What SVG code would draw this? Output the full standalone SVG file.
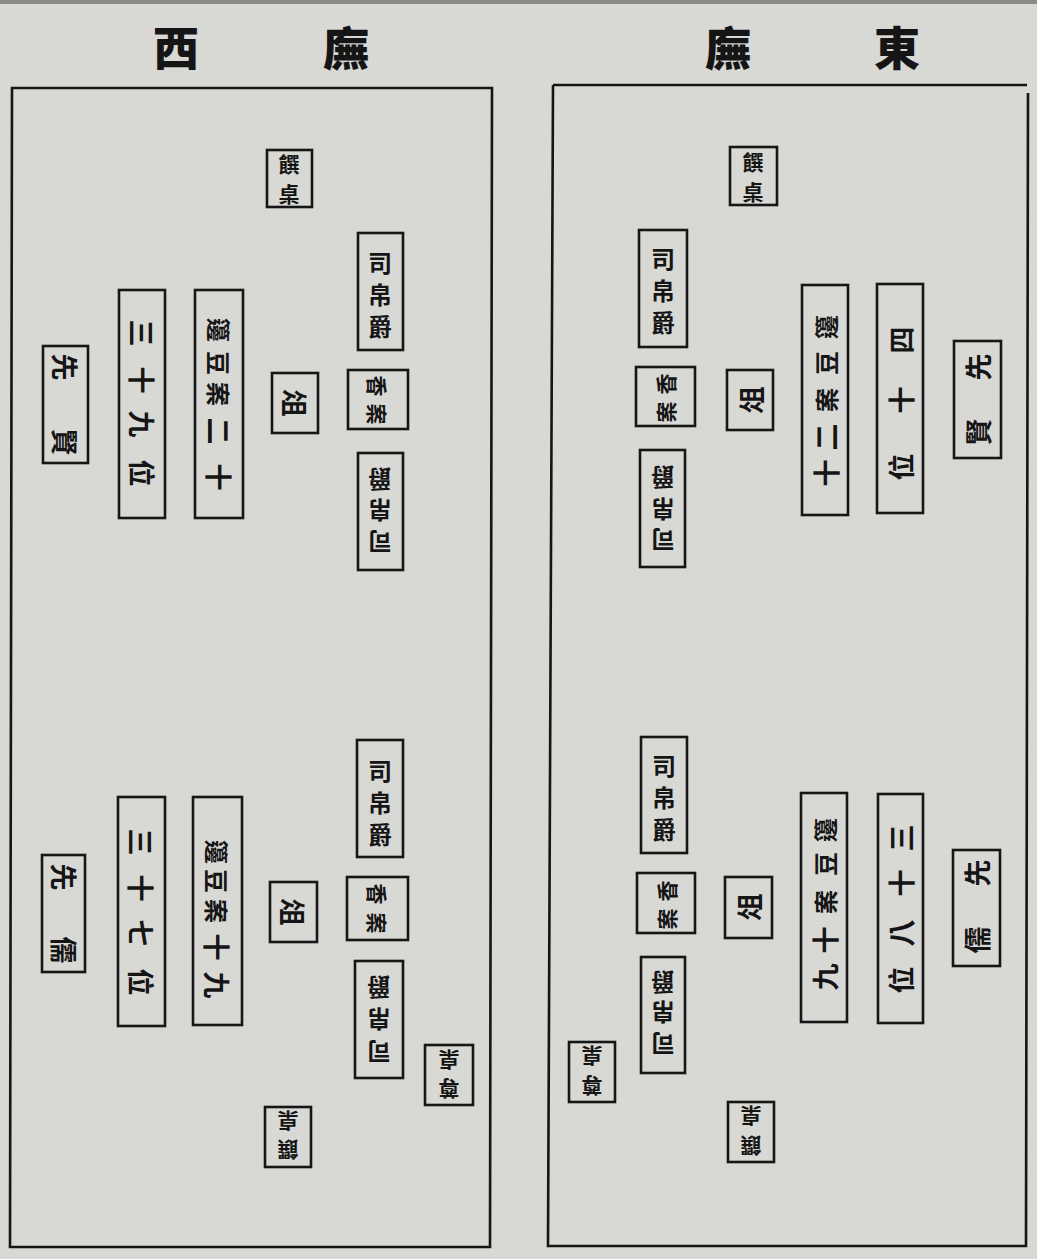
<svg xmlns="http://www.w3.org/2000/svg" width="1037" height="1259" viewBox="0 0 1037 1259">
<style>
.bg{fill:#d8d8d4}
.frame{fill:none;stroke:#151515;stroke-width:2.6}
.box{fill:none;stroke:#161616;stroke-width:2.6}
.ch{font-family:"Noto Sans CJK TC","Noto Sans CJK SC",sans-serif;font-weight:700;font-size:24px;fill:#151515;text-anchor:middle;dominant-baseline:central}
.sm{font-size:21px}
.big{font-size:27px}
.title{font-family:"Noto Sans CJK TC","Noto Sans CJK SC",serif;font-weight:900;font-size:46px;fill:#151515;text-anchor:middle;dominant-baseline:central}
</style>
<rect class="bg" x="0" y="0" width="1037" height="1259"/>
<rect x="0" y="0" width="1037" height="4" fill="#8a8a88"/>

<g id="titles">
<text class="title" x="176" y="45">西</text>
<text class="title" x="346" y="45">廡</text>
<text class="title" x="728" y="45">廡</text>
<text class="title" x="897" y="45">東</text>
</g>

<g id="frames">
<path class="frame" d="M12 88 L492 88 L490 1247 L10 1247 Z"/>
<path class="frame" d="M553 85 L1027 85 M1028 93 L1026 1246 L548 1246 L553 85"/>
</g>

<g id="connectors"></g>

<!-- WEST HALL (left) -->
<g id="w-zhuanzhuo-top">
<rect class="box" x="267" y="150" width="45" height="57"/>
<text class="ch sm" x="289" y="163">饌</text>
<text class="ch sm" x="289" y="193">桌</text>
</g>
<g id="w-sibojue-1">
<rect class="box" x="358" y="233" width="45" height="117"/>
<text class="ch" x="380" y="261">司</text>
<text class="ch" x="380" y="293">帛</text>
<text class="ch" x="380" y="325">爵</text>
</g>
<g id="w-xiangan-1">
<rect class="box" x="348" y="370" width="60" height="59"/>
<text class="ch sm" x="378" y="386" transform="rotate(90 378 386)">香</text>
<text class="ch sm" x="378" y="414" transform="rotate(90 378 414)">案</text>
</g>
<g id="w-zu-1">
<rect class="box" x="272" y="373" width="46" height="60"/>
<text class="ch big" x="295" y="403" transform="rotate(90 295 403)">俎</text>
</g>
<g id="w-sibojue-2">
<rect class="box" x="358" y="453" width="45" height="117"/>
<text class="ch" x="380" y="480" transform="rotate(180 380 480)">爵</text>
<text class="ch" x="380" y="511" transform="rotate(180 380 511)">帛</text>
<text class="ch" x="380" y="543" transform="rotate(180 380 543)">司</text>
</g>
<g id="w-xianxian">
<rect class="box" x="43" y="346" width="45" height="117"/>
<text class="ch big" x="65" y="367" transform="rotate(90 65 367)">先</text>
<text class="ch big" x="65" y="442" transform="rotate(90 65 442)">賢</text>
</g>
<g id="w-39wei">
<rect class="box" x="119" y="290" width="46" height="228"/>
<text class="ch big" x="142" y="333" transform="rotate(90 142 333)">三</text>
<text class="ch big" x="142" y="380" transform="rotate(90 142 380)">十</text>
<text class="ch big" x="142" y="424" transform="rotate(90 142 424)">九</text>
<text class="ch big" x="142" y="473" transform="rotate(90 142 473)">位</text>
</g>
<g id="w-biandou-20">
<rect class="box" x="195" y="290" width="48" height="228"/>
<text class="ch" x="219" y="330" transform="rotate(90 219 330)">籩</text>
<text class="ch" x="219" y="363" transform="rotate(90 219 363)">豆</text>
<text class="ch" x="219" y="394" transform="rotate(90 219 394)">案</text>
<text class="ch big" x="219" y="431" transform="rotate(90 219 431)">二</text>
<text class="ch big" x="219" y="477" transform="rotate(90 219 477)">十</text>
</g>

<g id="w-sibojue-3">
<rect class="box" x="357" y="740" width="46" height="117"/>
<text class="ch" x="380" y="769">司</text>
<text class="ch" x="380" y="801">帛</text>
<text class="ch" x="380" y="833">爵</text>
</g>
<g id="w-xiangan-2">
<rect class="box" x="347" y="877" width="61" height="63"/>
<text class="ch sm" x="378" y="894" transform="rotate(90 378 894)">香</text>
<text class="ch sm" x="378" y="923" transform="rotate(90 378 923)">案</text>
</g>
<g id="w-zu-2">
<rect class="box" x="270" y="882" width="47" height="60"/>
<text class="ch big" x="293" y="912" transform="rotate(90 293 912)">俎</text>
</g>
<g id="w-sibojue-4">
<rect class="box" x="355" y="961" width="48" height="117"/>
<text class="ch" x="379" y="988" transform="rotate(180 379 988)">爵</text>
<text class="ch" x="379" y="1020" transform="rotate(180 379 1020)">帛</text>
<text class="ch" x="379" y="1053" transform="rotate(180 379 1053)">司</text>
</g>
<g id="w-xianru">
<rect class="box" x="42" y="855" width="43" height="117"/>
<text class="ch big" x="64" y="877" transform="rotate(90 64 877)">先</text>
<text class="ch big" x="64" y="950" transform="rotate(90 64 950)">儒</text>
</g>
<g id="w-37wei">
<rect class="box" x="118" y="797" width="47" height="229"/>
<text class="ch big" x="141" y="842" transform="rotate(90 141 842)">三</text>
<text class="ch big" x="141" y="888" transform="rotate(90 141 888)">十</text>
<text class="ch big" x="141" y="933" transform="rotate(90 141 933)">七</text>
<text class="ch big" x="141" y="982" transform="rotate(90 141 982)">位</text>
</g>
<g id="w-biandou-19">
<rect class="box" x="193" y="797" width="49" height="228"/>
<text class="ch" x="217" y="852" transform="rotate(90 217 852)">籩</text>
<text class="ch" x="217" y="881" transform="rotate(90 217 881)">豆</text>
<text class="ch" x="217" y="911" transform="rotate(90 217 911)">案</text>
<text class="ch big" x="217" y="947" transform="rotate(90 217 947)">十</text>
<text class="ch big" x="217" y="985" transform="rotate(90 217 985)">九</text>
</g>
<g id="w-zunzhuo">
<rect class="box" x="425" y="1045" width="48" height="60"/>
<text class="ch sm" x="449" y="1061" transform="rotate(180 449 1061)">桌</text>
<text class="ch sm" x="449" y="1090" transform="rotate(180 449 1090)">尊</text>
</g>
<g id="w-zhuanzhuo-bottom">
<rect class="box" x="265" y="1107" width="46" height="60"/>
<text class="ch sm" x="288" y="1122" transform="rotate(180 288 1122)">桌</text>
<text class="ch sm" x="288" y="1151" transform="rotate(180 288 1151)">饌</text>
</g>

<!-- EAST HALL (right) -->
<g id="e-zhuanzhuo-top">
<rect class="box" x="730" y="147" width="47" height="58"/>
<text class="ch sm" x="753" y="161">饌</text>
<text class="ch sm" x="753" y="191">桌</text>
</g>
<g id="e-sibojue-1">
<rect class="box" x="639" y="230" width="48" height="117"/>
<text class="ch" x="663" y="257">司</text>
<text class="ch" x="663" y="289">帛</text>
<text class="ch" x="663" y="321">爵</text>
</g>
<g id="e-xiangan-1">
<rect class="box" x="636" y="367" width="59" height="59"/>
<text class="ch sm" x="665" y="384" transform="rotate(-90 665 384)">香</text>
<text class="ch sm" x="665" y="412" transform="rotate(-90 665 412)">案</text>
</g>
<g id="e-zu-1">
<rect class="box" x="727" y="370" width="46" height="60"/>
<text class="ch big" x="750" y="400" transform="rotate(-90 750 400)">俎</text>
</g>
<g id="e-sibojue-2">
<rect class="box" x="640" y="450" width="45" height="117"/>
<text class="ch" x="663" y="478" transform="rotate(180 663 478)">爵</text>
<text class="ch" x="663" y="510" transform="rotate(180 663 510)">帛</text>
<text class="ch" x="663" y="541" transform="rotate(180 663 541)">司</text>
</g>
<g id="e-biandou-20">
<rect class="box" x="802" y="285" width="46" height="230"/>
<text class="ch" x="825" y="327" transform="rotate(-90 825 327)">籩</text>
<text class="ch" x="825" y="363" transform="rotate(-90 825 363)">豆</text>
<text class="ch" x="825" y="400" transform="rotate(-90 825 400)">案</text>
<text class="ch big" x="825" y="437" transform="rotate(-90 825 437)">二</text>
<text class="ch big" x="825" y="473" transform="rotate(-90 825 473)">十</text>
</g>
<g id="e-40wei">
<rect class="box" x="877" y="284" width="46" height="229"/>
<text class="ch big" x="900" y="340" transform="rotate(-90 900 340)">四</text>
<text class="ch big" x="900" y="400" transform="rotate(-90 900 400)">十</text>
<text class="ch big" x="900" y="467" transform="rotate(-90 900 467)">位</text>
</g>
<g id="e-xianxian">
<rect class="box" x="954" y="341" width="47" height="117"/>
<text class="ch big" x="977" y="367" transform="rotate(-90 977 367)">先</text>
<text class="ch big" x="977" y="432" transform="rotate(-90 977 432)">賢</text>
</g>

<g id="e-sibojue-3">
<rect class="box" x="641" y="737" width="46" height="116"/>
<text class="ch" x="664" y="764">司</text>
<text class="ch" x="664" y="796">帛</text>
<text class="ch" x="664" y="828">爵</text>
</g>
<g id="e-xiangan-2">
<rect class="box" x="637" y="873" width="58" height="60"/>
<text class="ch sm" x="666" y="891" transform="rotate(-90 666 891)">香</text>
<text class="ch sm" x="666" y="919" transform="rotate(-90 666 919)">案</text>
</g>
<g id="e-zu-2">
<rect class="box" x="725" y="877" width="47" height="61"/>
<text class="ch big" x="748" y="907" transform="rotate(-90 748 907)">俎</text>
</g>
<g id="e-sibojue-4">
<rect class="box" x="641" y="957" width="44" height="116"/>
<text class="ch" x="663" y="983" transform="rotate(180 663 983)">爵</text>
<text class="ch" x="663" y="1013" transform="rotate(180 663 1013)">帛</text>
<text class="ch" x="663" y="1045" transform="rotate(180 663 1045)">司</text>
</g>
<g id="e-biandou-19">
<rect class="box" x="801" y="793" width="46" height="229"/>
<text class="ch" x="824" y="830" transform="rotate(-90 824 830)">籩</text>
<text class="ch" x="824" y="864" transform="rotate(-90 824 864)">豆</text>
<text class="ch" x="824" y="902" transform="rotate(-90 824 902)">案</text>
<text class="ch big" x="824" y="940" transform="rotate(-90 824 940)">十</text>
<text class="ch big" x="824" y="977" transform="rotate(-90 824 977)">九</text>
</g>
<g id="e-38wei">
<rect class="box" x="878" y="794" width="45" height="229"/>
<text class="ch big" x="900" y="838" transform="rotate(-90 900 838)">三</text>
<text class="ch big" x="900" y="883" transform="rotate(-90 900 883)">十</text>
<text class="ch big" x="900" y="933" transform="rotate(-90 900 933)">八</text>
<text class="ch big" x="900" y="980" transform="rotate(-90 900 980)">位</text>
</g>
<g id="e-xianru">
<rect class="box" x="953" y="850" width="47" height="116"/>
<text class="ch big" x="976" y="873" transform="rotate(-90 976 873)">先</text>
<text class="ch big" x="976" y="940" transform="rotate(-90 976 940)">儒</text>
</g>
<g id="e-zunzhuo">
<rect class="box" x="569" y="1042" width="46" height="60"/>
<text class="ch sm" x="592" y="1057" transform="rotate(180 592 1057)">桌</text>
<text class="ch sm" x="592" y="1087" transform="rotate(180 592 1087)">尊</text>
</g>
<g id="e-zhuanzhuo-bottom">
<rect class="box" x="728" y="1102" width="46" height="60"/>
<text class="ch sm" x="751" y="1117" transform="rotate(180 751 1117)">桌</text>
<text class="ch sm" x="751" y="1147" transform="rotate(180 751 1147)">饌</text>
</g>
</svg>
